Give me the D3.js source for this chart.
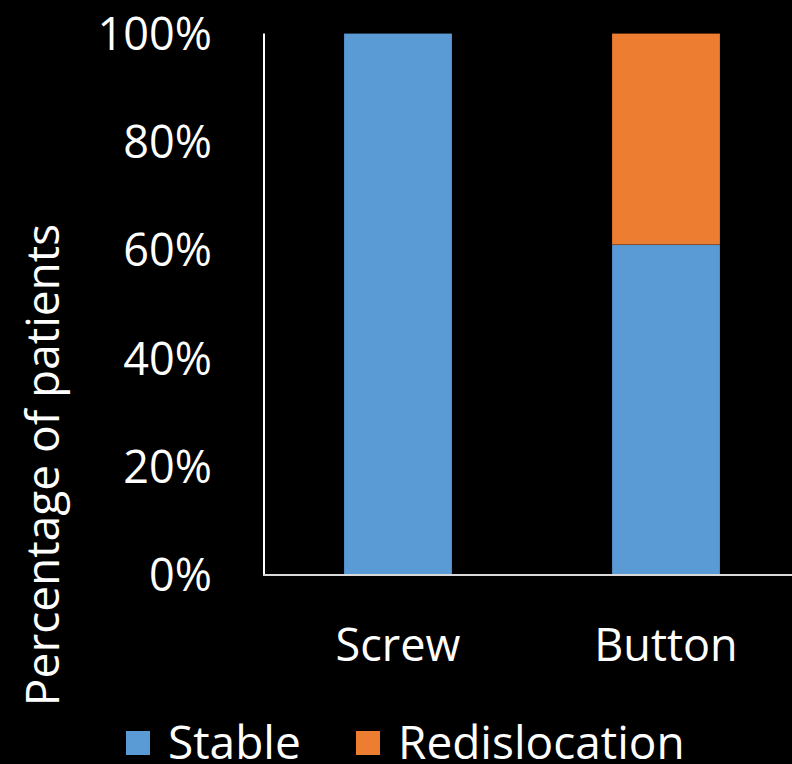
<!DOCTYPE html>
<html><head><meta charset="utf-8">
<script src="https://cdn.jsdelivr.net/npm/d3@7"></script>
<style>
html,body{margin:0;padding:0;background:#000;}
svg{display:block;}
</style></head>
<body>
<script>
const categories = ["Screw", "Button"];
const seriesNames = ["Stable", "Redislocation"];
const stable = [100, 61];
const redislocation = [0, 39];
const yTicks = [0, 20, 40, 60, 80, 100];
const colors = ["#5B9BD5", "#ED7D31"];

const W = 792, H = 764;
const font = "'Open Sans', Lato, sans-serif";
const svg = d3.select("body").append("svg").attr("width", W).attr("height", H)
  .style("background", "#000");

const x = d3.scaleBand().domain(categories).range([264, 800]).paddingInner(0.597).paddingOuter(0.2985);
const y = d3.scaleLinear().domain([0, 100]).range([575, 33.5]);

const data = categories.map((c, i) => ({cat: c, Stable: stable[i], Redislocation: redislocation[i]}));
const stack = d3.stack().keys(seriesNames)(data);

svg.append("g").selectAll("g").data(stack).join("g")
  .attr("fill", (d, i) => colors[i])
  .selectAll("rect").data(d => d.filter(p => p[1] - p[0] > 0)).join("rect")
  .attr("x", d => x(d.data.cat))
  .attr("width", x.bandwidth())
  .attr("y", d => y(d[1]))
  .attr("height", d => y(d[0]) - y(d[1]))
  .attr("stroke", "#000").attr("stroke-opacity", 0.25).attr("stroke-width", 0.75);

// axes lines
svg.append("line").attr("x1", 264).attr("x2", 264).attr("y1", y(100)).attr("y2", y(0))
  .attr("stroke", "#fff").attr("stroke-width", 2);
svg.append("line").attr("x1", 263).attr("x2", W).attr("y1", y(0)).attr("y2", y(0))
  .attr("stroke", "#d9d9d9").attr("stroke-width", 2);

// y tick labels
svg.append("g").selectAll("text").data(yTicks).join("text")
  .attr("x", 212).attr("y", d => y(d)).attr("dy", "0.36em")
  .attr("text-anchor", "end").attr("fill", "#fff")
  .style("font-family", font).style("font-size", "45px")
  .text(d => d + "%");

// x labels
svg.append("g").selectAll("text").data(categories).join("text")
  .attr("x", d => x(d) + x.bandwidth() / 2).attr("y", 661)
  .attr("text-anchor", "middle").attr("fill", "#fff")
  .style("font-family", font).style("font-size", "45px")
  .text(d => d);

// y title
svg.append("text").attr("transform", "translate(59,465) rotate(-90)")
  .attr("text-anchor", "middle").attr("fill", "#fff")
  .style("font-family", font).style("font-size", "46px")
  .text("Percentage of patients");

// legend
const legX = [126, 356];
const leg = svg.append("g").selectAll("g").data(seriesNames).join("g")
  .attr("transform", (d, i) => `translate(${legX[i]},731)`);
leg.append("rect").attr("width", 24).attr("height", 24).attr("fill", (d, i) => colors[i]);
leg.append("text").attr("x", 42).attr("y", 28).attr("fill", "#fff")
  .style("font-family", font).style("font-size", "46px").text(d => d);
</script>
</body></html>
